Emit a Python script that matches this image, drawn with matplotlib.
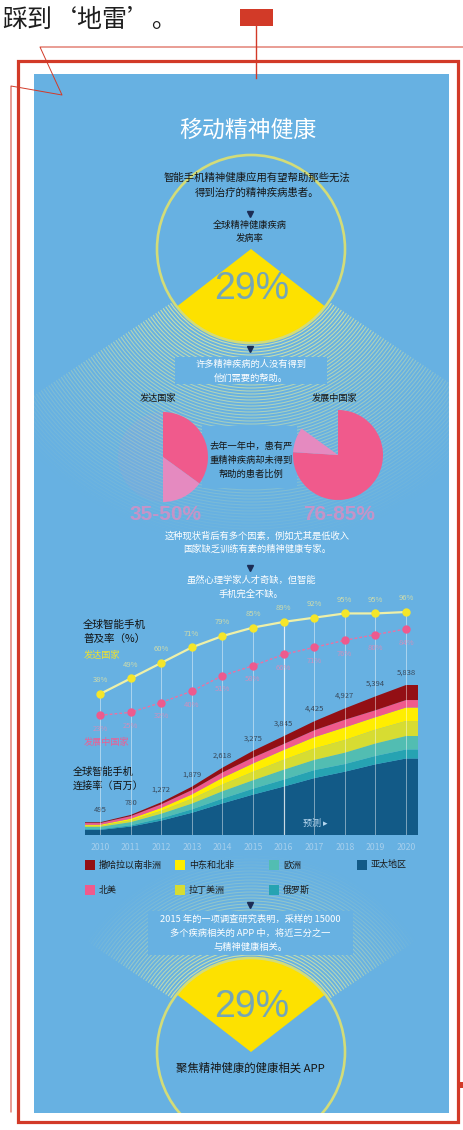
import numpy as np
import matplotlib
matplotlib.use('Agg')
import matplotlib.pyplot as plt
from matplotlib.patches import Rectangle, Circle, Wedge, Arc

plt.rcParams['font.family'] = ['Noto Sans CJK SC', 'DejaVu Sans']

# ---------------- data ----------------
prevalence_pct = 29          # global mental-illness prevalence
app_share_pct = 29           # health apps focused on mental health

untreated_developed = [35, 15, 50]   # 35% untreated, up to 50%, rest
untreated_developing = [76, 9, 15]   # 76% untreated, up to 85%, rest

years = [2010, 2011, 2012, 2013, 2014, 2015, 2016, 2017, 2018, 2019, 2020]
pen_developed = [38, 49, 60, 71, 79, 85, 89, 92, 95, 95, 96]
pen_developing = [23, 25, 32, 40, 51, 58, 66, 71, 76, 80, 84]

# smartphone connections (millions), stacked bottom -> top
conn_asia = [198, 328, 560, 864, 1230, 1572, 1884, 2213, 2464, 2751, 2977]
conn_russia = [30, 47, 89, 132, 183, 229, 269, 310, 296, 324, 350]
conn_europe = [89, 125, 178, 225, 288, 328, 385, 398, 443, 485, 525]
conn_latam = [40, 70, 114, 188, 262, 328, 385, 443, 493, 539, 584]
conn_mena = [40, 62, 114, 169, 262, 328, 385, 443, 493, 485, 525]
conn_na = [69, 101, 140, 169, 209, 229, 231, 266, 296, 270, 292]
conn_ssa = [29, 47, 77, 132, 184, 261, 306, 352, 442, 540, 585]
conn_total_labels = ['495', '780', '1,272', '1,879', '2,618', '3,275',
                     '3,845', '4,425', '4,927', '5,394', '5,838']
forecast_start = 2016

region_names = ['亚太地区', '俄罗斯', '欧洲', '拉丁美洲', '中东和北非', '北美', '撒哈拉以南非洲']
region_colors = ['#125a87', '#26a3b2', '#52bdb2', '#d7dc32', '#ffee00', '#f05a8c', '#930f14']

# ---------------- figure ----------------
W, H = 463, 1130
fig = plt.figure(figsize=(W / 100, H / 100), dpi=100)
ax0 = fig.add_axes([0, 0, 1, 1])
ax0.set_xlim(0, W)
ax0.set_ylim(H, 0)
ax0.axis('off')

BLUE = '#67b1e2'
RED = '#d23a28'
YELLOW = '#fde100'
RING = '#d3dc78'
STRIPE = '#dfe9a0'
PINK = '#f05a8c'
NAVY = '#1c2d55'

ax0.text(2, 20, '踩到‘地雷’。', fontsize=18, color='#1e1e1e', va='center', ha='left')

panel = Rectangle((34, 74), 415, 1039, fc=BLUE, ec='none', zorder=1)
ax0.add_patch(panel)

# red decorations
ax0.add_patch(Rectangle((240, 9), 33, 17, color=RED, lw=0, zorder=5))
ax0.plot([256, 256], [26, 78], color=RED, lw=1.0, zorder=5)
ax0.plot([463, 40, 62, 11, 11], [47, 47, 95, 86, 1112], color=RED, lw=0.7, zorder=5)
ax0.add_patch(Rectangle((18, 61), 440, 1061, fill=False, ec=RED, lw=2.3, zorder=5))
ax0.add_patch(Rectangle((458, 1082), 5, 6, color=RED, lw=0, zorder=5))


def stripes(cx, cy, direction, half, r0, r1, alpha0):
    for r in np.arange(r0, r1, 3.0):
        a = alpha0 * (1 - (r - r0) / (r1 - r0)) ** 1.1
        arc = Arc((cx, cy), 2 * r, 2 * r, theta1=direction - half, theta2=direction + half,
                  color=STRIPE, lw=0.8, alpha=a, zorder=2)
        ax0.add_patch(arc)
        arc.set_clip_path(panel)


# ---- top circle ----
cx1, cy1, R = 251, 249, 94
ang = prevalence_pct / 100 * 360
stripes(cx1, cy1, 90, 56, R, 300, 0.85)
ax0.add_patch(Wedge((cx1, cy1), R, 90 - ang / 2, 90 + ang / 2, fc=YELLOW, ec='none', zorder=3))
ax0.add_patch(Circle((cx1, cy1), R, fill=False, ec=RING, lw=1.9, zorder=3))

ax0.text(248, 130, '移动精神健康', color='white', fontsize=16.5, ha='center', va='center', zorder=6)
ax0.text(257, 177, '智能手机精神健康应用有望帮助那些无法', fontsize=7.5, ha='center', va='center',
         color='#151515', zorder=6)
ax0.text(257, 193, '得到治疗的精神疾病患者。', fontsize=7.5, ha='center', va='center', color='#151515', zorder=6)
ax0.plot([250], [214], marker='v', ms=4, color=NAVY, zorder=6)
ax0.text(250, 225, '全球精神健康疾病', fontsize=6.7, ha='center', va='center', color='#151515', zorder=6)
ax0.text(250, 239, '发病率', fontsize=6.7, ha='center', va='center', color='#151515', zorder=6)
ax0.text(252, 289, f'{prevalence_pct}%', fontsize=27, family='Liberation Sans', color='#74a6b6',
         ha='center', va='center', zorder=6)

# ---- middle section ----
ax0.plot([250], [349], marker='v', ms=4, color=NAVY, zorder=6)
ax0.add_patch(Rectangle((175, 357), 152, 27, fc=BLUE, ec='none', zorder=4))
ax0.text(251, 364, '许多精神疾病的人没有得到', fontsize=6.7, ha='center', va='center', color='white', zorder=6)
ax0.text(251, 378, '他们需要的帮助。', fontsize=6.7, ha='center', va='center', color='white', zorder=6)
ax0.text(158, 398, '发达国家', fontsize=6.6, ha='center', va='center', color='#151515', zorder=6)
ax0.text(335, 398, '发展中国家', fontsize=6.6, ha='center', va='center', color='#151515', zorder=6)
ax0.add_patch(Rectangle((202, 426), 95, 62, fc=BLUE, ec='none', zorder=4))
ax0.text(251, 446, '去年一年中，患有严', fontsize=6.7, ha='center', va='center', color='#151515', zorder=6)
ax0.text(251, 460, '重精神疾病却未得到', fontsize=6.7, ha='center', va='center', color='#151515', zorder=6)
ax0.text(251, 474, '帮助的患者比例', fontsize=6.7, ha='center', va='center', color='#151515', zorder=6)
ax0.text(165, 514, '35-50%', fontsize=15, family='Liberation Sans', weight='bold', color='#e48ac0',
         alpha=0.75, ha='center', va='center', zorder=6)
ax0.text(339, 514, '76-85%', fontsize=15, family='Liberation Sans', weight='bold', color='#e48ac0',
         alpha=0.75, ha='center', va='center', zorder=6)

ax0.text(257, 536, '这种现状背后有多个因素，例如尤其是低收入', fontsize=6.7, ha='center', va='center',
         color='white', zorder=6)
ax0.text(257, 549, '国家缺乏训练有素的精神健康专家。', fontsize=6.7, ha='center', va='center',
         color='white', zorder=6)
ax0.plot([250], [568], marker='v', ms=4, color=NAVY, zorder=6)
ax0.text(251, 580, '虽然心理学家人才奇缺，但智能', fontsize=6.7, ha='center', va='center', color='white', zorder=6)
ax0.text(251, 594, '手机完全不缺。', fontsize=6.7, ha='center', va='center', color='white', zorder=6)


def pie_axes(cx, cy, r):
    a = fig.add_axes([(cx - r) / W, 1 - (cy + r) / H, 2 * r / W, 2 * r / H])
    a.set_xlim(-1, 1)
    a.set_ylim(-1, 1)
    a.axis('off')
    return a


pa = pie_axes(163, 457, 45)
pa.pie(untreated_developed, colors=[PINK, '#e58ac0', (0.95, 0.55, 0.75, 0.08)], startangle=90,
       counterclock=False, radius=1, frame=False)
pa.set_xlim(-1, 1); pa.set_ylim(-1, 1); pa.axis('off')
pb = pie_axes(338, 455, 45)
pb.pie(untreated_developing, colors=[PINK, '#e58ac0', (0, 0, 0, 0)], startangle=90,
       counterclock=False, radius=1, frame=False)
pb.set_xlim(-1, 1); pb.set_ylim(-1, 1); pb.axis('off')

# ---- chart labels ----
ax0.text(83, 625, '全球智能手机', fontsize=7.6, ha='left', va='center', color='#111111', zorder=6)
ax0.text(83, 639, '普及率（%）', fontsize=7.6, ha='left', va='center', color='#111111', zorder=6)
ax0.text(84, 655, '发达国家', fontsize=6.6, ha='left', va='center', color='#f2e22a', zorder=6)
ax0.text(84, 742, '发展中国家', fontsize=6.6, ha='left', va='center', color='#ee5d92', zorder=6)
ax0.text(73, 772, '全球智能手机', fontsize=7.3, ha='left', va='center', color='#111111', zorder=6)
ax0.text(73, 786, '连接率（百万）', fontsize=7.3, ha='left', va='center', color='#111111', zorder=6)

# ---- chart ----
L, Rr, T, B = 85, 418, 600, 835
ax = fig.add_axes([L / W, 1 - B / H, (Rr - L) / W, (B - T) / H])
ax.patch.set_alpha(0)
px_per_year = 30.6
x_left = years[0] - 15 / px_per_year
x_right = years[-1] + 12 / px_per_year
ax.set_xlim(x_left, x_right)
ax.set_ylim(0, (B - T) * 38.92)

layers = [conn_asia, conn_russia, conn_europe, conn_latam, conn_mena, conn_na, conn_ssa]
xs = np.r_[x_left, years, x_right]
ys = [np.r_[v[0], v, v[-1]] for v in layers]
ax.stackplot(xs, *ys, colors=region_colors, lw=0, zorder=2)
totals = np.sum(np.array(layers), axis=0)
for yr, tot, lab in zip(years, totals, conn_total_labels):
    ax.annotate(lab, (yr, tot), xytext=(0, 6), textcoords='offset points', fontsize=5.5,
                color='#38485a', ha='center', va='bottom', zorder=5)

ax.set_xticks(years)
ax.set_xticklabels([str(y) for y in years], fontsize=6.3, color='#a6cfec')
ax.tick_params(length=0, pad=5.5)
ax.set_yticks([])
for s in ax.spines.values():
    s.set_visible(False)

ax2 = ax.twinx()
ax2.set_ylim(-61.7, 104.5)
ax2.set_xlim(x_left, x_right)
ax2.vlines(years, -61.7, pen_developed, colors='white', lw=0.7, alpha=0.45, zorder=1)
ax2.vlines([forecast_start], -61.7, 86, colors='white', lw=0.9, alpha=0.6, zorder=3)
ax2.plot(years, pen_developed, color='#eef0a8', lw=1.6, zorder=4)
ax2.plot(years, pen_developed, 'o', color='#f5e62a', ms=5, zorder=5)
ax2.plot(years, pen_developing, color='#ef6fa0', lw=1.0, ls=(0, (2, 1.5)), zorder=4)
ax2.plot(years, pen_developing, 'o', color='#ee5a8e', ms=5, zorder=5)
for yr, v in zip(years, pen_developed):
    ax2.annotate(f'{v}%', (yr, v), xytext=(0, 7), textcoords='offset points', fontsize=5.5,
                 color='#e9e79e', alpha=0.8, ha='center', va='bottom')
for yr, v in zip(years, pen_developing):
    ax2.annotate(f'{v}%', (yr, v), xytext=(0, -7), textcoords='offset points', fontsize=5.5,
                 color='#ee86b2', alpha=0.75, ha='center', va='top')
ax2.set_yticks([])
for s in ax2.spines.values():
    s.set_visible(False)
ax2.text(forecast_start + 1.05, 0.03, '预测 ▸', transform=ax2.get_xaxis_transform(), fontsize=6.5,
         color='#b8d8f0', ha='center', va='bottom')

# ---- legend ----
legend_order = [6, 4, 2, 0, 5, 3, 1]
col_x = [90, 180, 274, 362]
row_y = [865, 890]
for k, idx in enumerate(legend_order):
    r_, c_ = divmod(k, 4)
    x, y = col_x[c_], row_y[r_]
    ax0.add_patch(Rectangle((x - 5, y - 5), 10, 10, fc=region_colors[idx], ec='none', zorder=6))
    ax0.text(x + 9, y, region_names[idx], fontsize=6.5, ha='left', va='center', color='#1a1a1a', zorder=6)

# ---- bottom circle ----
cx2, cy2 = 251, 1052
ang2 = app_share_pct / 100 * 360
stripes(cx2, cy2, 270, 56, R, 200, 0.85)
w2 = Wedge((cx2, cy2), R, 270 - ang2 / 2, 270 + ang2 / 2, fc=YELLOW, ec='none', zorder=3)
ax0.add_patch(w2)
c2 = Circle((cx2, cy2), R, fill=False, ec=RING, lw=1.9, zorder=3)
ax0.add_patch(c2)
c2.set_clip_path(panel)

ax0.plot([250], [905], marker='v', ms=4, color=NAVY, zorder=6)
ax0.add_patch(Rectangle((148, 911), 205, 44, fc=BLUE, ec='none', zorder=4))
ax0.text(250, 919, '2015 年的一项调查研究表明，采样的 15000', fontsize=6.7, ha='center', va='center',
         color='white', zorder=6)
ax0.text(250, 933, '多个疾病相关的 APP 中，将近三分之一', fontsize=6.7, ha='center', va='center',
         color='white', zorder=6)
ax0.text(250, 947, '与精神健康相关。', fontsize=6.7, ha='center', va='center', color='white', zorder=6)
ax0.text(252, 1007, f'{app_share_pct}%', fontsize=27, family='Liberation Sans', color='#74a6b6',
         ha='center', va='center', zorder=6)
ax0.text(250, 1068, '聚焦精神健康的健康相关 APP', fontsize=8.2, ha='center', va='center',
         color='#151515', zorder=6)

fig.savefig('out.png', dpi=100)
